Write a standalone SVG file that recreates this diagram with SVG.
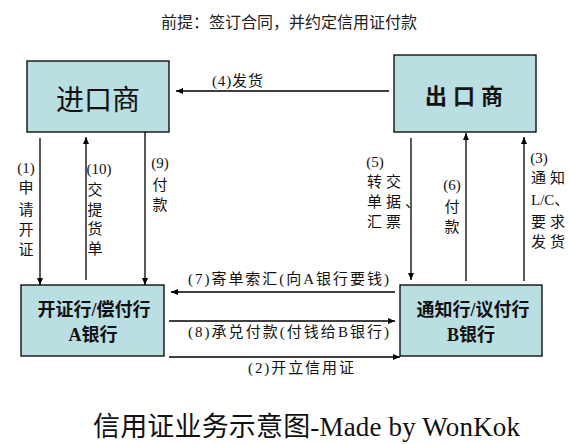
<svg xmlns="http://www.w3.org/2000/svg" width="570" height="444" viewBox="0 0 570 444">
<style>
.box{fill:#b9dfe3;stroke:#000;stroke-width:1.3}
.ln{stroke:#000;stroke-width:1.3;fill:none}
.arr{marker-end:url(#ah)}
.lbl{font-family:"Liberation Serif","Noto Sans CJK SC",serif;font-size:15px;fill:#111}
.bank{font-family:"Liberation Serif","Noto Sans CJK SC",serif;font-size:18px;font-weight:bold;fill:#111;text-anchor:middle}
</style>
<defs>
<marker id="ah" markerUnits="userSpaceOnUse" markerWidth="8" markerHeight="6" refX="7" refY="3" orient="auto">
<path d="M0,0 L7,3 L0,6 z" fill="#000"/>
</marker>
</defs>
<rect width="570" height="444" fill="#fff"/>
<text x="289" y="28" text-anchor="middle" font-family="Noto Sans CJK SC, sans-serif" font-size="16" fill="#222">前提：签订合同，并约定信用证付款</text>

<g id="importer">
<rect class="box" x="27" y="61" width="142" height="71"/>
<text x="98" y="110" text-anchor="middle" font-family="Noto Sans CJK SC, sans-serif" font-size="28" fill="#111">进口商</text>
</g>
<g id="exporter">
<rect class="box" x="394" y="55" width="142" height="77"/>
<text x="467" y="104" text-anchor="middle" font-family="Noto Sans CJK SC, serif" font-size="22" font-weight="bold" letter-spacing="6" fill="#111">出口商</text>
</g>
<g id="bankA">
<rect class="box" x="21" y="285" width="143" height="71"/>
<text class="bank" x="94" y="316">开证行/偿付行</text>
<text class="bank" x="93" y="341">A银行</text>
</g>
<g id="bankB">
<rect class="box" x="400" y="285" width="142" height="71"/>
<text class="bank" x="473" y="316">通知行/议付行</text>
<text class="bank" x="471" y="341">B银行</text>
</g>

<g id="connectors">
<path class="ln arr" d="M389,91 L176,91"/>
<path class="ln arr" d="M40,138 L40,285"/>
<path class="ln arr" d="M86,280 L86,137"/>
<path class="ln arr" d="M145,132 L145,285"/>
<path class="ln arr" d="M411,138 L411,280"/>
<path class="ln arr" d="M466,281 L466,133"/>
<path class="ln arr" d="M524,281 L524,137"/>
<path class="ln arr" d="M395,292 L171,292"/>
<path class="ln arr" d="M169,321 L395,321"/>
<path class="ln arr" d="M169,357 L400,357"/>

<text class="lbl" x="212" y="86" textLength="51" lengthAdjust="spacing">(4)发货</text>
<text class="lbl" x="188" y="284" textLength="201" lengthAdjust="spacing">(7)寄单索汇(向A银行要钱)</text>
<text class="lbl" x="188" y="337" textLength="201" lengthAdjust="spacing">(8)承兑付款(付钱给B银行)</text>
<text class="lbl" x="248" y="373" textLength="106" lengthAdjust="spacing">(2)开立信用证</text>

<g class="lbl" text-anchor="middle">
<text x="26" y="173">(1)</text>
<text x="26" y="193">申</text>
<text x="26" y="215">请</text>
<text x="26" y="235">开</text>
<text x="26" y="255">证</text>

<text x="99" y="174">(10)</text>
<text x="95" y="195">交</text>
<text x="95" y="215">提</text>
<text x="95" y="234">货</text>
<text x="95" y="254">单</text>

<text x="160" y="168">(9)</text>
<text x="160" y="190">付</text>
<text x="160" y="210">款</text>

<text x="375" y="167">(5)</text>
<text x="452" y="190">(6)</text>
<text x="452" y="212">付</text>
<text x="452" y="232">款</text>
<text x="539" y="163">(3)</text>
</g>
<g class="lbl" letter-spacing="4">
<text x="367" y="187">转交</text>
<text x="367" y="207">单据、</text>
<text x="367" y="227">汇票</text>
<text x="531" y="183">通知</text>
<text x="531" y="205" letter-spacing="0">L/C、</text>
<text x="531" y="227">要求</text>
<text x="531" y="247">发货</text>
</g>
</g>

<text x="93" y="436" font-family="Liberation Serif, Noto Sans CJK SC, serif" font-size="27" fill="#111" textLength="427" lengthAdjust="spacing">信用证业务示意图-Made by WonKok</text>
</svg>
